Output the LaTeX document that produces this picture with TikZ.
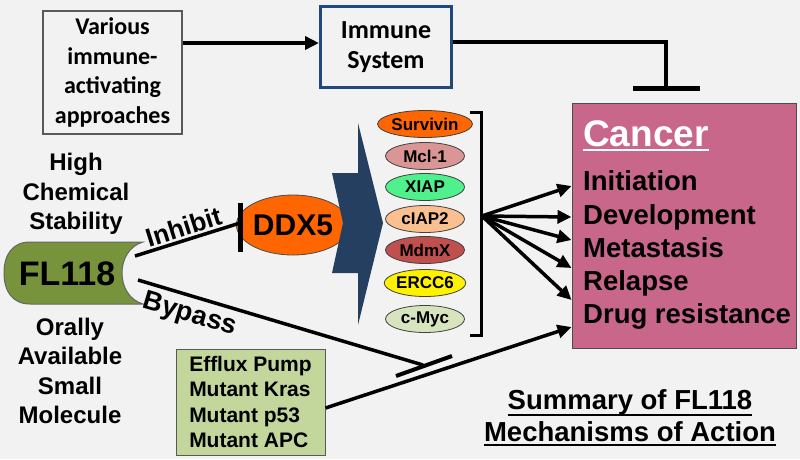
\documentclass[tikz,border=0pt]{standalone}
\usepackage{fontspec}
\setmainfont{Liberation Sans}
\newfontfamily\calibri{Carlito}
\usetikzlibrary{arrows.meta,shapes.geometric}

\definecolor{bgcol}{HTML}{F2F2F2}
\definecolor{immblue}{HTML}{1F497D}
\definecolor{cancerpink}{HTML}{C8678A}
\definecolor{flgreen}{HTML}{77933C}
\definecolor{ddxorange}{HTML}{FF6600}
\definecolor{effluxgreen}{HTML}{C3D69B}
\definecolor{chevnavy}{HTML}{243F60}
\definecolor{mclpink}{HTML}{D99694}
\definecolor{xiapgreen}{HTML}{50F08C}
\definecolor{ciappeach}{HTML}{FAC090}
\definecolor{mdmxred}{HTML}{C0504D}
\definecolor{mycgreen}{HTML}{D7E4BD}

\tikzset{
  thickline/.style={line width=3.5pt},
  actarrow/.style={thickline, -{Triangle[length=14pt,width=13pt]}},
  protein/.style={ellipse, draw=black!75, line width=0.8pt, minimum width=79pt,
    minimum height=27pt, inner sep=0pt, font=\fontsize{17}{17}\selectfont\bfseries},
  cantext/.style={anchor=base west, inner sep=0pt, font=\fontsize{27.5}{33}\selectfont\bfseries},
  sumtext/.style={anchor=base, inner sep=0pt, font=\fontsize{27.5}{32}\selectfont\bfseries},
  sidetext/.style={align=center, font=\fontsize{24}{29.5}\selectfont\bfseries},
}

\begin{document}
\begin{tikzpicture}[x=1pt,y=-1pt]
  \fill[bgcol] (0,0) rectangle (800,459);
  \useasboundingbox (0,0) rectangle (800,459);

  % immune part
  \node[draw=black!65, line width=1.2pt, minimum width=139pt, minimum height=123pt, align=center,
    font=\calibri\bfseries\fontsize{24}{29.5}\selectfont] (various) at (112.5,72.5)
    {Various\\immune-\\activating\\approaches};
  \node[draw=immblue, line width=3pt, minimum width=131pt, minimum height=81pt, align=center,
    font=\calibri\bfseries\fontsize{26}{30}\selectfont] (immune) at (386,47) {Immune\\System};
  \node[draw=black!70, line width=1pt, fill=cancerpink, minimum width=224pt,
    minimum height=245pt] (cancer) at (684,225.5) {};
  \draw[actarrow] ([yshift=29.5pt]various.east) -- ([yshift=4pt]immune.west);
  \draw[thickline, -{Bar[width=67pt,line width=4.5pt]}] ([yshift=5pt]immune.east)
    -| ([xshift=-18pt,yshift=12pt]cancer.north);

  % cancer box
  \node[anchor=base west, inner sep=0pt, text=white, font=\fontsize{37}{37}\selectfont\bfseries]
    (cantitle) at (583,146) {Cancer};
  \draw[white, line width=2.5pt] ([yshift=-4pt]cantitle.base west) -- ([yshift=-4pt]cantitle.base east);
  \node[cantext] (initiation) at (583,190) {Initiation};
  \node[cantext] (development) at (583,224) {Development};
  \node[cantext] (metastasis) at (583,257) {Metastasis};
  \node[cantext] (relapse) at (583,290) {Relapse};
  \node[cantext] (drugres) at (583,323) {Drug resistance};

  % FL118
  \filldraw[fill=flgreen, draw=black!60, line width=1pt] (143,242)
    .. controls (115,250) and (115,296) .. (143,304) -- (30,304)
    .. controls (13,304) and (4,292) .. (4,273)
    .. controls (4,254) and (13,242) .. (30,242) -- cycle;
  \node[anchor=base, font=\fontsize{34}{34}\selectfont\bfseries] (fl118) at (67,285) {FL118};
  \node[sidetext] (stability) at (76,194) {High\\Chemical\\Stability};
  \node[sidetext] (oral) at (70,371) {Orally\\Available\\Small\\Molecule};

  % DDX5 and targets
  \node[ellipse, draw=black!70, line width=0.8pt, fill=ddxorange, minimum width=93pt,
    minimum height=60pt, inner sep=0pt, font=\fontsize{30}{30}\selectfont\bfseries]
    (ddx5) at (293,225) {DDX5};
  \coordinate (inhstart) at (135,256);
  \coordinate (inhend) at (240,223);
  \draw[thickline] (inhstart) -- (inhend)
    node[midway, above, sloped, inner sep=2pt, font=\fontsize{26}{26}\selectfont\bfseries] {Inhibit};
  \draw[line width=5pt] ([yshift=20pt]inhend) -- ([yshift=-29pt]inhend);

  \fill[chevnavy] (358,123) -- (383,223) -- (358,325) -- (358,273) -- (332,273)
    -- (343,223) -- (332,173) -- (358,173) -- cycle;

  \node[protein, fill=ddxorange] (survivin) at (425,124) {Survivin};
  \node[protein, fill=mclpink] (mcl) at (425,156) {Mcl-1};
  \node[protein, fill=xiapgreen] (xiap) at (425,187) {XIAP};
  \node[protein, fill=ciappeach] (ciap) at (425,219) {cIAP2};
  \node[protein, fill=mdmxred] (mdmx) at (425,250) {MdmX};
  \node[protein, fill=yellow] (ercc) at (425,283) {ERCC6};
  \node[protein, fill=mycgreen] (myc) at (425,319) {c-Myc};
  \draw[line width=3pt] (470,112) -- (481,112) -- (481,335) -- (470,335);

  \coordinate (hub) at (482,216);
  \draw[actarrow] (hub) -- ([yshift=39.5pt]cancer.west);
  \draw[actarrow] (hub) -- ([yshift=8.5pt]cancer.west);
  \draw[actarrow] (hub) -- ([yshift=-14.5pt]cancer.west);
  \draw[actarrow] (hub) -- ([yshift=-42.5pt]cancer.west);
  \draw[actarrow] (hub) -- ([yshift=-74.5pt]cancer.west);

  % bypass
  \node[draw=black!65, line width=1pt, fill=effluxgreen, minimum width=149pt, minimum height=106pt,
    align=left, font=\fontsize{21}{25.5}\selectfont\bfseries] (efflux) at (250.5,402)
    {Efflux Pump\\Mutant Kras\\Mutant p53\\Mutant APC};
  \coordinate (bypstart) at (138,280);
  \coordinate (bypend) at (423,365);
  \draw[thickline] (bypstart) -- (bypend)
    node[pos=0.2, below, sloped, inner sep=5pt, font=\fontsize{27}{27}\selectfont\bfseries] {Bypass};
  \draw[line width=4pt] (396,376) -- (452,356);
  \draw[actarrow] ([yshift=-6pt]efflux.east) -- ([yshift=-101.5pt]cancer.west);

  % summary
  \node[sumtext] (sum1) at (630,409) {Summary of FL118};
  \node[sumtext] (sum2) at (630,441) {Mechanisms of Action};
  \draw[line width=2pt] ([yshift=-6pt]sum1.base west) -- ([yshift=-6pt]sum1.base east);
  \draw[line width=2pt] ([yshift=-4pt]sum2.base west) -- ([yshift=-4pt]sum2.base east);
\end{tikzpicture}
\end{document}
